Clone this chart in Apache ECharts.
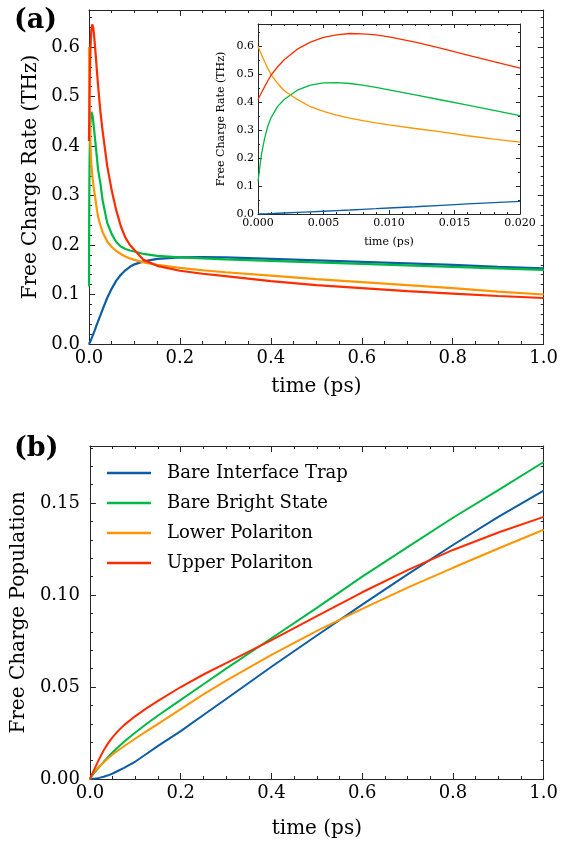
<!DOCTYPE html>
<html>
<head>
<meta charset="utf-8">
<script src="https://cdn.jsdelivr.net/npm/echarts@6/dist/echarts.min.js"></script>
<style>
html,body{margin:0;padding:0;background:#fff;}
#c{width:561px;height:842px;}
</style>
</head>
<body>
<div id="c"></div>
<script>
// ---- data ----
const seriesNames = ['Bare Interface Trap', 'Bare Bright State', 'Lower Polariton', 'Upper Polariton'];
const colors = ['#0C5DA5', '#00B945', '#FF9500', '#FF2C00'];

// Free charge rate (THz), early times (ps)
const tEarly = [0, 0.00025, 0.0005, 0.00075, 0.001, 0.0015, 0.002, 0.003, 0.004, 0.005, 0.006, 0.007, 0.008, 0.009, 0.010, 0.012, 0.014, 0.016, 0.018, 0.020];
const rateTrapEarly   = [0, 0.0004, 0.0008, 0.0012, 0.0017, 0.0026, 0.0035, 0.0055, 0.0076, 0.0098, 0.012, 0.0143, 0.0167, 0.019, 0.0214, 0.026, 0.031, 0.036, 0.041, 0.045];
const rateBrightEarly = [0.116, 0.21, 0.27, 0.315, 0.345, 0.385, 0.41, 0.443, 0.461, 0.469, 0.47, 0.467, 0.461, 0.453, 0.444, 0.426, 0.408, 0.39, 0.371, 0.352];
const rateLowerEarly  = [0.6, 0.572, 0.546, 0.521, 0.499, 0.467, 0.441, 0.41, 0.384, 0.367, 0.354, 0.343, 0.334, 0.326, 0.319, 0.306, 0.294, 0.280, 0.268, 0.257];
const rateUpperEarly  = [0.41, 0.433, 0.455, 0.477, 0.497, 0.527, 0.552, 0.59, 0.615, 0.632, 0.641, 0.646, 0.645, 0.641, 0.634, 0.615, 0.593, 0.569, 0.545, 0.522];

// Free charge rate (THz), later times (ps)
const tLate = [0.025, 0.03, 0.04, 0.05, 0.06, 0.07, 0.08, 0.09, 0.1, 0.12, 0.15, 0.2, 0.25, 0.3, 0.4, 0.5, 0.6, 0.7, 0.8, 0.9, 1.0];
const rateTrapLate   = [0.058, 0.07, 0.093, 0.112, 0.128, 0.14, 0.149, 0.156, 0.161, 0.167, 0.172, 0.175, 0.1755, 0.175, 0.172, 0.169, 0.166, 0.163, 0.16, 0.156, 0.153];
const rateBrightLate = [0.325, 0.29, 0.245, 0.222, 0.206, 0.197, 0.192, 0.189, 0.187, 0.182, 0.178, 0.175, 0.173, 0.171, 0.168, 0.165, 0.162, 0.159, 0.156, 0.153, 0.150];
const rateLowerLate  = [0.24, 0.226, 0.207, 0.196, 0.188, 0.182, 0.177, 0.173, 0.17, 0.165, 0.16, 0.154, 0.149, 0.145, 0.138, 0.131, 0.125, 0.119, 0.113, 0.106, 0.100];
const rateUpperLate  = [0.47, 0.43, 0.36, 0.31, 0.27, 0.238, 0.215, 0.2, 0.19, 0.17, 0.158, 0.148, 0.142, 0.137, 0.127, 0.119, 0.113, 0.107, 0.102, 0.097, 0.093];

// Free charge population
const tPop = [0, 0.005, 0.01, 0.02, 0.03, 0.04, 0.05, 0.06, 0.075, 0.1, 0.125, 0.15, 0.2, 0.25, 0.3, 0.4, 0.5, 0.6, 0.7, 0.8, 0.9, 1.0];
const popTrap   = [0, 0.0001, 0.0002, 0.0006, 0.0012, 0.002, 0.003, 0.0042, 0.006, 0.0095, 0.0137, 0.018, 0.026, 0.0348, 0.0435, 0.061, 0.078, 0.0948, 0.1112, 0.1272, 0.1425, 0.1567];
const popBright = [0, 0.002, 0.0035, 0.0065, 0.0093, 0.012, 0.0145, 0.0168, 0.0202, 0.0253, 0.030, 0.0345, 0.043, 0.0515, 0.060, 0.0765, 0.093, 0.110, 0.126, 0.142, 0.157, 0.1723];
const popLower  = [0, 0.0025, 0.0042, 0.0068, 0.009, 0.0113, 0.0133, 0.0152, 0.0178, 0.022, 0.026, 0.030, 0.038, 0.046, 0.0535, 0.0675, 0.0805, 0.0925, 0.104, 0.1148, 0.1253, 0.1355];
const popUpper  = [0, 0.0028, 0.0055, 0.0108, 0.0155, 0.0195, 0.0228, 0.0256, 0.0293, 0.0342, 0.0385, 0.0425, 0.050, 0.0568, 0.063, 0.0755, 0.0885, 0.1015, 0.1135, 0.1245, 0.134, 0.1425];

// ---- build ----
const FONT = "'DejaVu Serif', serif";
const pairs = (ts, vs) => ts.map((t, i) => [t, vs[i]]);
const earlyRates = [rateTrapEarly, rateBrightEarly, rateLowerEarly, rateUpperEarly];
const lateRates = [rateTrapLate, rateBrightLate, rateLowerLate, rateUpperLate];
const pops = [popTrap, popBright, popLower, popUpper];
const tAll = tEarly.concat(tLate);

const AX = '#262626';
function xAxis(gi, pos, min, max, interval, dec, minorN, fs, nfs, tl, ml, show, name, nameGap, margin) {
  return {
    type: 'value', gridIndex: gi, position: pos, min: min, max: max, interval: interval,
    axisLine: {show: true, onZero: false, lineStyle: {color: AX, width: 1}},
    axisTick: {show: true, inside: true, length: tl, lineStyle: {color: AX, width: 1}},
    minorTick: {show: true, splitNumber: minorN, length: ml, lineStyle: {color: AX, width: 1}},
    splitLine: {show: false}, minorSplitLine: {show: false},
    axisLabel: {show: show, formatter: v => v.toFixed(dec), color: '#000', fontFamily: FONT, fontSize: fs, margin: margin},
    name: show ? name : '', nameLocation: 'middle', nameGap: nameGap,
    nameTextStyle: {color: '#000', fontFamily: FONT, fontSize: nfs}
  };
}
function yAxis(gi, pos, min, max, interval, dec, minorN, fs, nfs, tl, ml, show, name, nameGap, margin) {
  return {
    type: 'value', gridIndex: gi, position: pos, min: min, max: max, interval: interval,
    axisLine: {show: true, onZero: false, lineStyle: {color: AX, width: 1}},
    axisTick: {show: true, inside: true, length: tl, lineStyle: {color: AX, width: 1}},
    minorTick: {show: true, splitNumber: minorN, length: ml, lineStyle: {color: AX, width: 1}},
    splitLine: {show: false}, minorSplitLine: {show: false},
    axisLabel: {show: show, showMaxLabel: false, formatter: v => v.toFixed(dec), color: '#000', fontFamily: FONT, fontSize: fs, margin: margin},
    name: show ? name : '', nameLocation: 'middle', nameGap: nameGap, nameRotate: 90,
    nameTextStyle: {color: '#000', fontFamily: FONT, fontSize: nfs}
  };
}

const series = [];
for (let i = 0; i < 4; i++) {
  series.push({
    name: seriesNames[i], type: 'line', xAxisIndex: 0, yAxisIndex: 0,
    data: pairs(tAll, earlyRates[i].concat(lateRates[i])),
    showSymbol: false, symbol: 'none', smooth: false,
    lineStyle: {color: colors[i], width: 2.2}, itemStyle: {color: colors[i]}, z: 2 + i
  });
}
for (let i = 0; i < 4; i++) {
  series.push({
    name: seriesNames[i], type: 'line', xAxisIndex: 2, yAxisIndex: 2,
    data: pairs(tEarly, earlyRates[i]),
    showSymbol: false, symbol: 'none', smooth: false,
    lineStyle: {color: colors[i], width: 1.3}, itemStyle: {color: colors[i]}, z: 12 + i
  });
}
for (let i = 0; i < 4; i++) {
  series.push({
    name: seriesNames[i], type: 'line', xAxisIndex: 4, yAxisIndex: 4,
    data: pairs(tPop, pops[i]),
    showSymbol: false, symbol: 'none', smooth: false,
    lineStyle: {color: colors[i], width: 2}, itemStyle: {color: colors[i]}, z: 2 + i
  });
}

const chart = echarts.init(document.getElementById('c'), null, {renderer: 'canvas'});
chart.setOption({
  animation: false,
  backgroundColor: '#fff',
  grid: [
    {left: 89, top: 10, width: 458, height: 334},
    {left: 258, top: 24, width: 262, height: 190, backgroundColor: '#fff', show: true, borderWidth: 0, z: 10},
    {left: 90, top: 446, width: 457, height: 333}
  ],
  xAxis: [
    xAxis(0, 'bottom', 0, 1, 0.2, 1, 4, 18, 20, 6, 3, true, 'time (ps)', 33, 5),
    xAxis(0, 'top', 0, 1, 0.2, 1, 4, 18, 20, 6, 3, false),
    Object.assign(xAxis(1, 'bottom', 0, 0.02, 0.005, 3, 5, 11, 11, 4, 2, true, 'time (ps)', 23, 4), {z: 11}),
    Object.assign(xAxis(1, 'top', 0, 0.02, 0.005, 3, 5, 11, 11, 4, 2, false), {z: 11}),
    xAxis(2, 'bottom', 0, 1, 0.2, 1, 4, 18, 20, 6, 3, true, 'time (ps)', 40, 5),
    xAxis(2, 'top', 0, 1, 0.2, 1, 4, 18, 20, 6, 3, false)
  ],
  yAxis: [
    yAxis(0, 'left', 0, 0.675, 0.1, 1, 5, 18, 20, 6, 3, true, 'Free Charge Rate (THz)', 48, 9),
    yAxis(0, 'right', 0, 0.675, 0.1, 1, 5, 18, 20, 6, 3, false),
    Object.assign(yAxis(1, 'left', 0, 0.68, 0.1, 1, 2, 11, 11, 4, 2, true, 'Free Charge Rate (THz)', 31, 4), {z: 11}),
    Object.assign(yAxis(1, 'right', 0, 0.68, 0.1, 1, 2, 11, 11, 4, 2, false), {z: 11}),
    yAxis(2, 'left', 0, 0.181, 0.05, 2, 5, 18, 20, 6, 3, true, 'Free Charge Population', 51, 10),
    yAxis(2, 'right', 0, 0.181, 0.05, 2, 5, 18, 20, 6, 3, false)
  ],
  legend: {
    show: true, orient: 'vertical', left: 102, top: 459,
    data: seriesNames, icon: 'rect', itemWidth: 44, itemHeight: 2.5, itemGap: 12,
    textStyle: {color: '#000', fontFamily: FONT, fontSize: 18, padding: [0, 0, 0, 11]},
    selectedMode: false
  },
  graphic: [
    {type: 'text', left: 14, top: 7, style: {text: '(a)', font: "bold 27px 'DejaVu Serif', serif", fill: '#000'}},
    {type: 'text', left: 14, top: 435, style: {text: '(b)', font: "bold 27px 'DejaVu Serif', serif", fill: '#000'}}
  ],
  series: series
});
</script>
</body>
</html>
